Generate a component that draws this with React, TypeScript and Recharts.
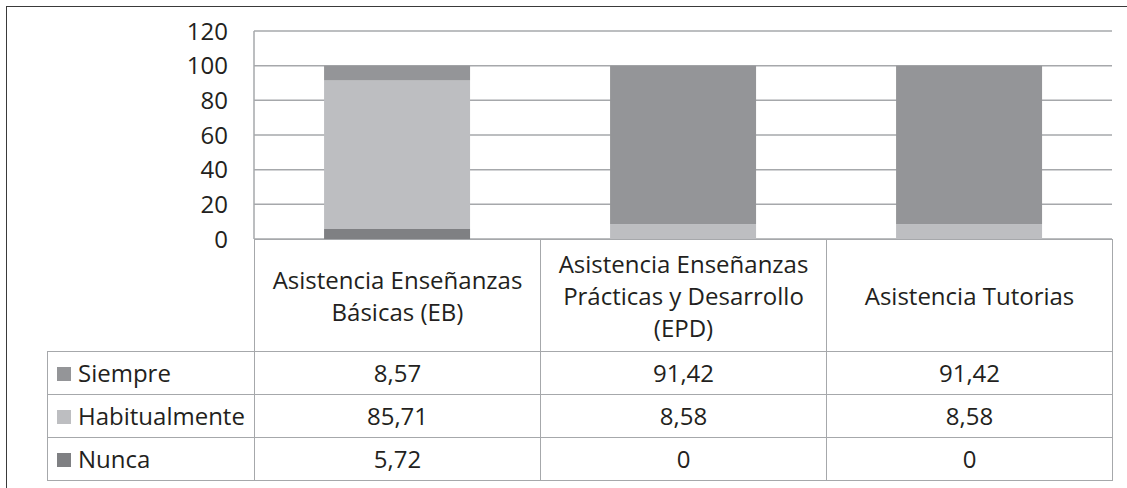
import React from 'react';
import { BarChart, Bar, XAxis, YAxis, CartesianGrid } from 'recharts';

const categories = [
  'Asistencia Enseñanzas\nBásicas (EB)',
  'Asistencia Enseñanzas\nPrácticas y Desarrollo\n(EPD)',
  'Asistencia Tutorias',
];
const siempre = [8.57, 91.42, 91.42];
const habitualmente = [85.71, 8.58, 8.58];
const nunca = [5.72, 0, 0];
const yTicks = [0, 20, 40, 60, 80, 100, 120];

const seriesInfo = [
  { key: 'siempre', name: 'Siempre', values: siempre, color: '#949598' },
  { key: 'habitualmente', name: 'Habitualmente', values: habitualmente, color: '#bdbec1' },
  { key: 'nunca', name: 'Nunca', values: nunca, color: '#7f8083' },
];

const data = categories.map((c, i) => ({
  name: c,
  siempre: siempre[i],
  habitualmente: habitualmente[i],
  nunca: nunca[i],
}));

const fmt = (v: number) => String(v).replace('.', ',');

const FONT = "'Open Sans', sans-serif";
const TEXT = '#231f20';
const LINE = '#a6a8ab';
const B = `1.5px solid ${LINE}`;

export default function App() {
  return (
    <div style={{ position: 'absolute', left: 0, top: 0, width: 1127, height: 488, background: '#fff', overflow: 'hidden', fontFamily: FONT }}>
      <div style={{ position: 'absolute', left: 6, top: 6, width: 1200, height: 600, borderLeft: '1.5px solid #3a3a3a', borderTop: '1.5px solid #3a3a3a' }} />
      <div style={{ position: 'absolute', left: 0, top: 0 }}>
        <BarChart
          width={1127}
          height={488}
          data={data}
          margin={{ top: 31, right: 15, bottom: 249, left: 154 }}
          barCategoryGap="24.5%"
        >
          <CartesianGrid vertical={false} stroke={LINE} strokeWidth={1.5} />
          <XAxis dataKey="name" hide />
          <YAxis
            width={100}
            domain={[0, 120]}
            ticks={yTicks}
            interval={0}
            tickLine={false}
            tickSize={6}
            tickMargin={20}
            axisLine={{ stroke: LINE, strokeWidth: 1.5 }}
            tick={{ fill: TEXT, fontSize: 24, fontFamily: FONT }}
          />
          <Bar dataKey="nunca" stackId="a" fill="#7f8083" isAnimationActive={false} />
          <Bar dataKey="habitualmente" stackId="a" fill="#bdbec1" isAnimationActive={false} />
          <Bar dataKey="siempre" stackId="a" fill="#949598" isAnimationActive={false} />
        </BarChart>
      </div>
      <table
        style={{
          position: 'absolute',
          left: 47,
          top: 239,
          borderCollapse: 'collapse',
          tableLayout: 'fixed',
          width: 1065,
          fontFamily: FONT,
          fontSize: 24,
          color: TEXT,
        }}
      >
        <colgroup>
          <col style={{ width: 207 }} />
          <col style={{ width: 286 }} />
          <col style={{ width: 286 }} />
          <col style={{ width: 286 }} />
        </colgroup>
        <tbody>
          <tr style={{ height: 112 }}>
            <td style={{ border: 'none', padding: 0 }} />
            {categories.map((c) => (
              <td
                key={c}
                style={{ border: B, padding: 0, textAlign: 'center', verticalAlign: 'middle', whiteSpace: 'pre-line', lineHeight: '32px' }}
              >
                {c}
              </td>
            ))}
          </tr>
          {seriesInfo.map((s) => (
            <tr key={s.key} style={{ height: 43 }}>
              <td style={{ border: B, padding: '0 0 0 9px', whiteSpace: 'nowrap', lineHeight: '40px' }}>
                <span style={{ display: 'inline-block', width: 14, height: 14, background: s.color, marginRight: 7, verticalAlign: 'middle', position: 'relative', top: -2 }} />
                {s.name}
              </td>
              {s.values.map((v, i) => (
                <td key={i} style={{ border: B, padding: 0, textAlign: 'center', lineHeight: '40px' }}>
                  {fmt(v)}
                </td>
              ))}
            </tr>
          ))}
        </tbody>
      </table>
    </div>
  );
}
